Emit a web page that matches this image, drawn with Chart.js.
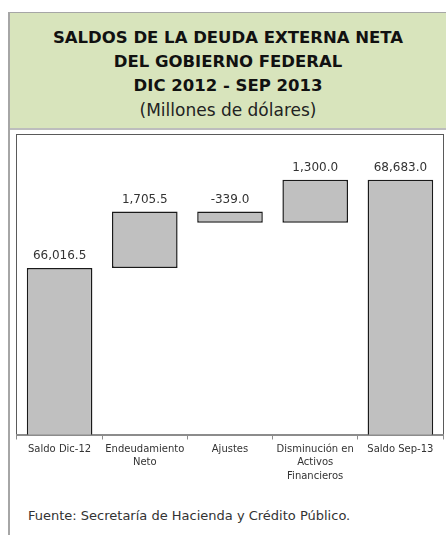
<!DOCTYPE html>
<html>
<head>
<meta charset="utf-8">
<script src="https://cdn.jsdelivr.net/npm/chart.js@4.4.0/dist/chart.umd.min.js"></script>
<style>
    html, body { margin: 0; padding: 0; background: #fff; }
    body { width: 446px; height: 535px; position: relative; overflow: hidden; font-family: "DejaVu Sans", sans-serif; }
    .frame { position: absolute; left: 8px; top: 12px; right: 0; bottom: 0; border-left: 2px solid #a6a6a6; border-top: 1px solid #a6a6a6; }
    .head { position: absolute; left: 10px; top: 13px; right: 0; height: 115px; background: #d8e4bc; border-bottom: 2px solid #bdbdbd; text-align: center; color: #111; }
    .head .t { font-weight: bold; font-size: 16.5px; line-height: 24px; }
    .head .s { font-size: 17px; line-height: 24px; color: #222; }
    .box { position: absolute; left: 16px; top: 134px; width: 426px; height: 304px; border: 1px solid #5a5a5a; border-bottom: none; }
    .wrap { position: absolute; left: 16px; top: 136px; width: 428px; height: 350px; }
    .foot { position: absolute; left: 28px; top: 508px; font-size: 13px; color: #333; }
</style>
</head>
<body>
<div class="frame"></div>
<div class="head">
    <div style="height:13px"></div>
    <div class="t">SALDOS DE LA DEUDA EXTERNA NETA</div>
    <div class="t">DEL GOBIERNO FEDERAL</div>
    <div class="t">DIC 2012 - SEP 2013</div>
    <div class="s">(Millones de dólares)</div>
</div>
<div class="box"></div>
<div class="wrap"><canvas id="waterfall"></canvas></div>
<div class="foot">Fuente: Secretaría de Hacienda y Crédito Público.</div>

<script>
"use strict";
// ------------------------------------------------------- //
// Data
// ------------------------------------------------------ //
var categories = ["Saldo Dic-12", ["Endeudamiento", "Neto"], "Ajustes", ["Disminución en", "Activos", "Financieros"], "Saldo Sep-13"];
var amounts = [66016.5, 1705.5, -339.0, 1300.0, 68683.0];
var isTotal = [true, false, false, false, true];
var axisMin = 61000;
var axisMax = 70000;

// waterfall ranges from the running balance
var ranges = [];
var running = 0;
for (var i = 0; i < amounts.length; i++) {
    if (isTotal[i]) {
        running = amounts[i];
        ranges.push(amounts[i]);
    } else {
        ranges.push([running, running + amounts[i]]);
        running += amounts[i];
    }
}

var valueLabels = {
    id: "valueLabels",
    afterDatasetsDraw: function (chart) {
        var ctx = chart.ctx;
        var meta = chart.getDatasetMeta(0);
        ctx.save();
        ctx.font = "12px 'DejaVu Sans'";
        ctx.fillStyle = "#333";
        ctx.textAlign = "center";
        ctx.textBaseline = "bottom";
        meta.data.forEach(function (bar, idx) {
            var top = Math.min(bar.y, bar.base);
            var txt = amounts[idx].toLocaleString("en-US", { minimumFractionDigits: 1, maximumFractionDigits: 1 });
            ctx.fillText(txt, bar.x, top - 6);
        });
        ctx.restore();
    }
};

var WATERFALL = document.getElementById("waterfall");
var myChart = new Chart(WATERFALL, {
    type: "bar",
    plugins: [valueLabels],
    data: {
        labels: categories,
        datasets: [
            {
                data: ranges,
                backgroundColor: "#c0c0c0",
                borderColor: "#1a1a1a",
                borderWidth: 1.5,
                borderSkipped: false,
                barPercentage: 0.77,
                categoryPercentage: 1.0,
            },
        ],
    },
    options: {
        animation: false,
        responsive: true,
        maintainAspectRatio: false,
        layout: { padding: { left: 1, right: 1, top: 0, bottom: 0 } },
        plugins: {
            legend: { display: false },
            tooltip: { enabled: false },
        },
        scales: {
            y: {
                display: false,
                min: axisMin,
                max: axisMax,
            },
            x: {
                grid: {
                    offset: true,
                    drawOnChartArea: false,
                    color: "#8c8c8c",
                    tickLength: 5,
                    lineWidth: 1,
                },
                border: { color: "#8c8c8c", width: 2 },
                ticks: {
                    color: "#333",
                    maxRotation: 0,
                    autoSkip: false,
                    padding: 3,
                    font: { family: "'DejaVu Sans'", size: 10, lineHeight: 1.35 },
                },
            },
        },
    },
});
</script>
</body>
</html>
